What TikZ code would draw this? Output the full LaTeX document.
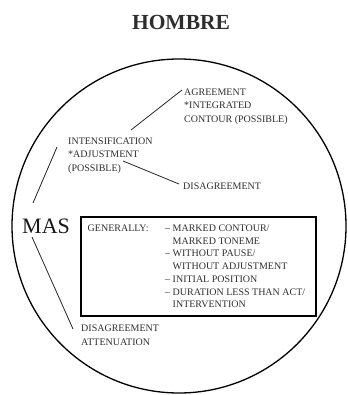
\documentclass[tikz,border=0pt]{standalone}
\usepackage{fontspec}
\setmainfont{Liberation Serif}
\definecolor{ink}{gray}{0.18}
\begin{document}
\begin{tikzpicture}[x=1pt,y=-1pt,
  lbl/.style={font=\fontsize{10}{13.5}\selectfont, text=ink, inner sep=0pt, align=left, anchor=base west},
  boxlbl/.style={font=\fontsize{10}{12.7}\selectfont, text=ink, inner sep=0pt, align=left, anchor=base west},
  link/.style={line width=0.8pt, black!85}]
\useasboundingbox (0,0) rectangle (347,395);

% outer circle
\node[draw, circle, line width=1.3pt, minimum size=334pt, inner sep=0pt] (ring) at (179,226) {};

% title
\node[font=\fontsize{21.5}{24}\selectfont\bfseries, text=ink, inner sep=0pt, anchor=base] (title) at (181,30) {HOMBRE};

% central label
\node[font=\fontsize{22}{24}\selectfont, text=black!90, inner sep=0pt, anchor=base west] (mas) at (22,233.5) {MAS};

% surrounding labels (anchored at the baseline of their last line)
\node[lbl] (agree) at (184,122.5) {AGREEMENT\\*INTEGRATED\\CONTOUR (POSSIBLE)};
\node[lbl] (intens) at (68,171.5) {INTENSIFICATION\\*ADJUSTMENT\\(POSSIBLE)};
\node[lbl] (disag) at (183,189.5) {DISAGREEMENT};
\node[lbl] (atten) at (81,345) {DISAGREEMENT\\ATTENUATION};

% box of general traits
\node[draw, line width=1.5pt, inner sep=0pt, minimum width=235pt, minimum height=99pt, anchor=north west] (frame) at (80,216) {};
\node[boxlbl] (gen) at (87.5,231.5) {GENERALLY:};
\node[boxlbl] (traits) at (165,307.7) {– MARKED CONTOUR/\\\hspace*{7.5pt}MARKED TONEME\\– WITHOUT PAUSE/\\\hspace*{7.5pt}WITHOUT ADJUSTMENT\\– INITIAL POSITION\\– DURATION LESS THAN ACT/\\\hspace*{7.5pt}INTERVENTION};

% connector end points
\coordinate (a1) at (131,130);
\coordinate (a2) at (182,90);
\coordinate (b1) at (123,161);
\coordinate (b2) at (179,184);
\coordinate (c1) at (57,147);
\coordinate (c2) at (33,203);
\coordinate (d1) at (32,237);
\coordinate (d2) at (73,329);

\draw[link] (a1) -- (a2);
\draw[link] (b1) -- (b2);
\draw[link] (c1) -- (c2);
\draw[link] (d1) -- (d2);
\end{tikzpicture}
\end{document}
